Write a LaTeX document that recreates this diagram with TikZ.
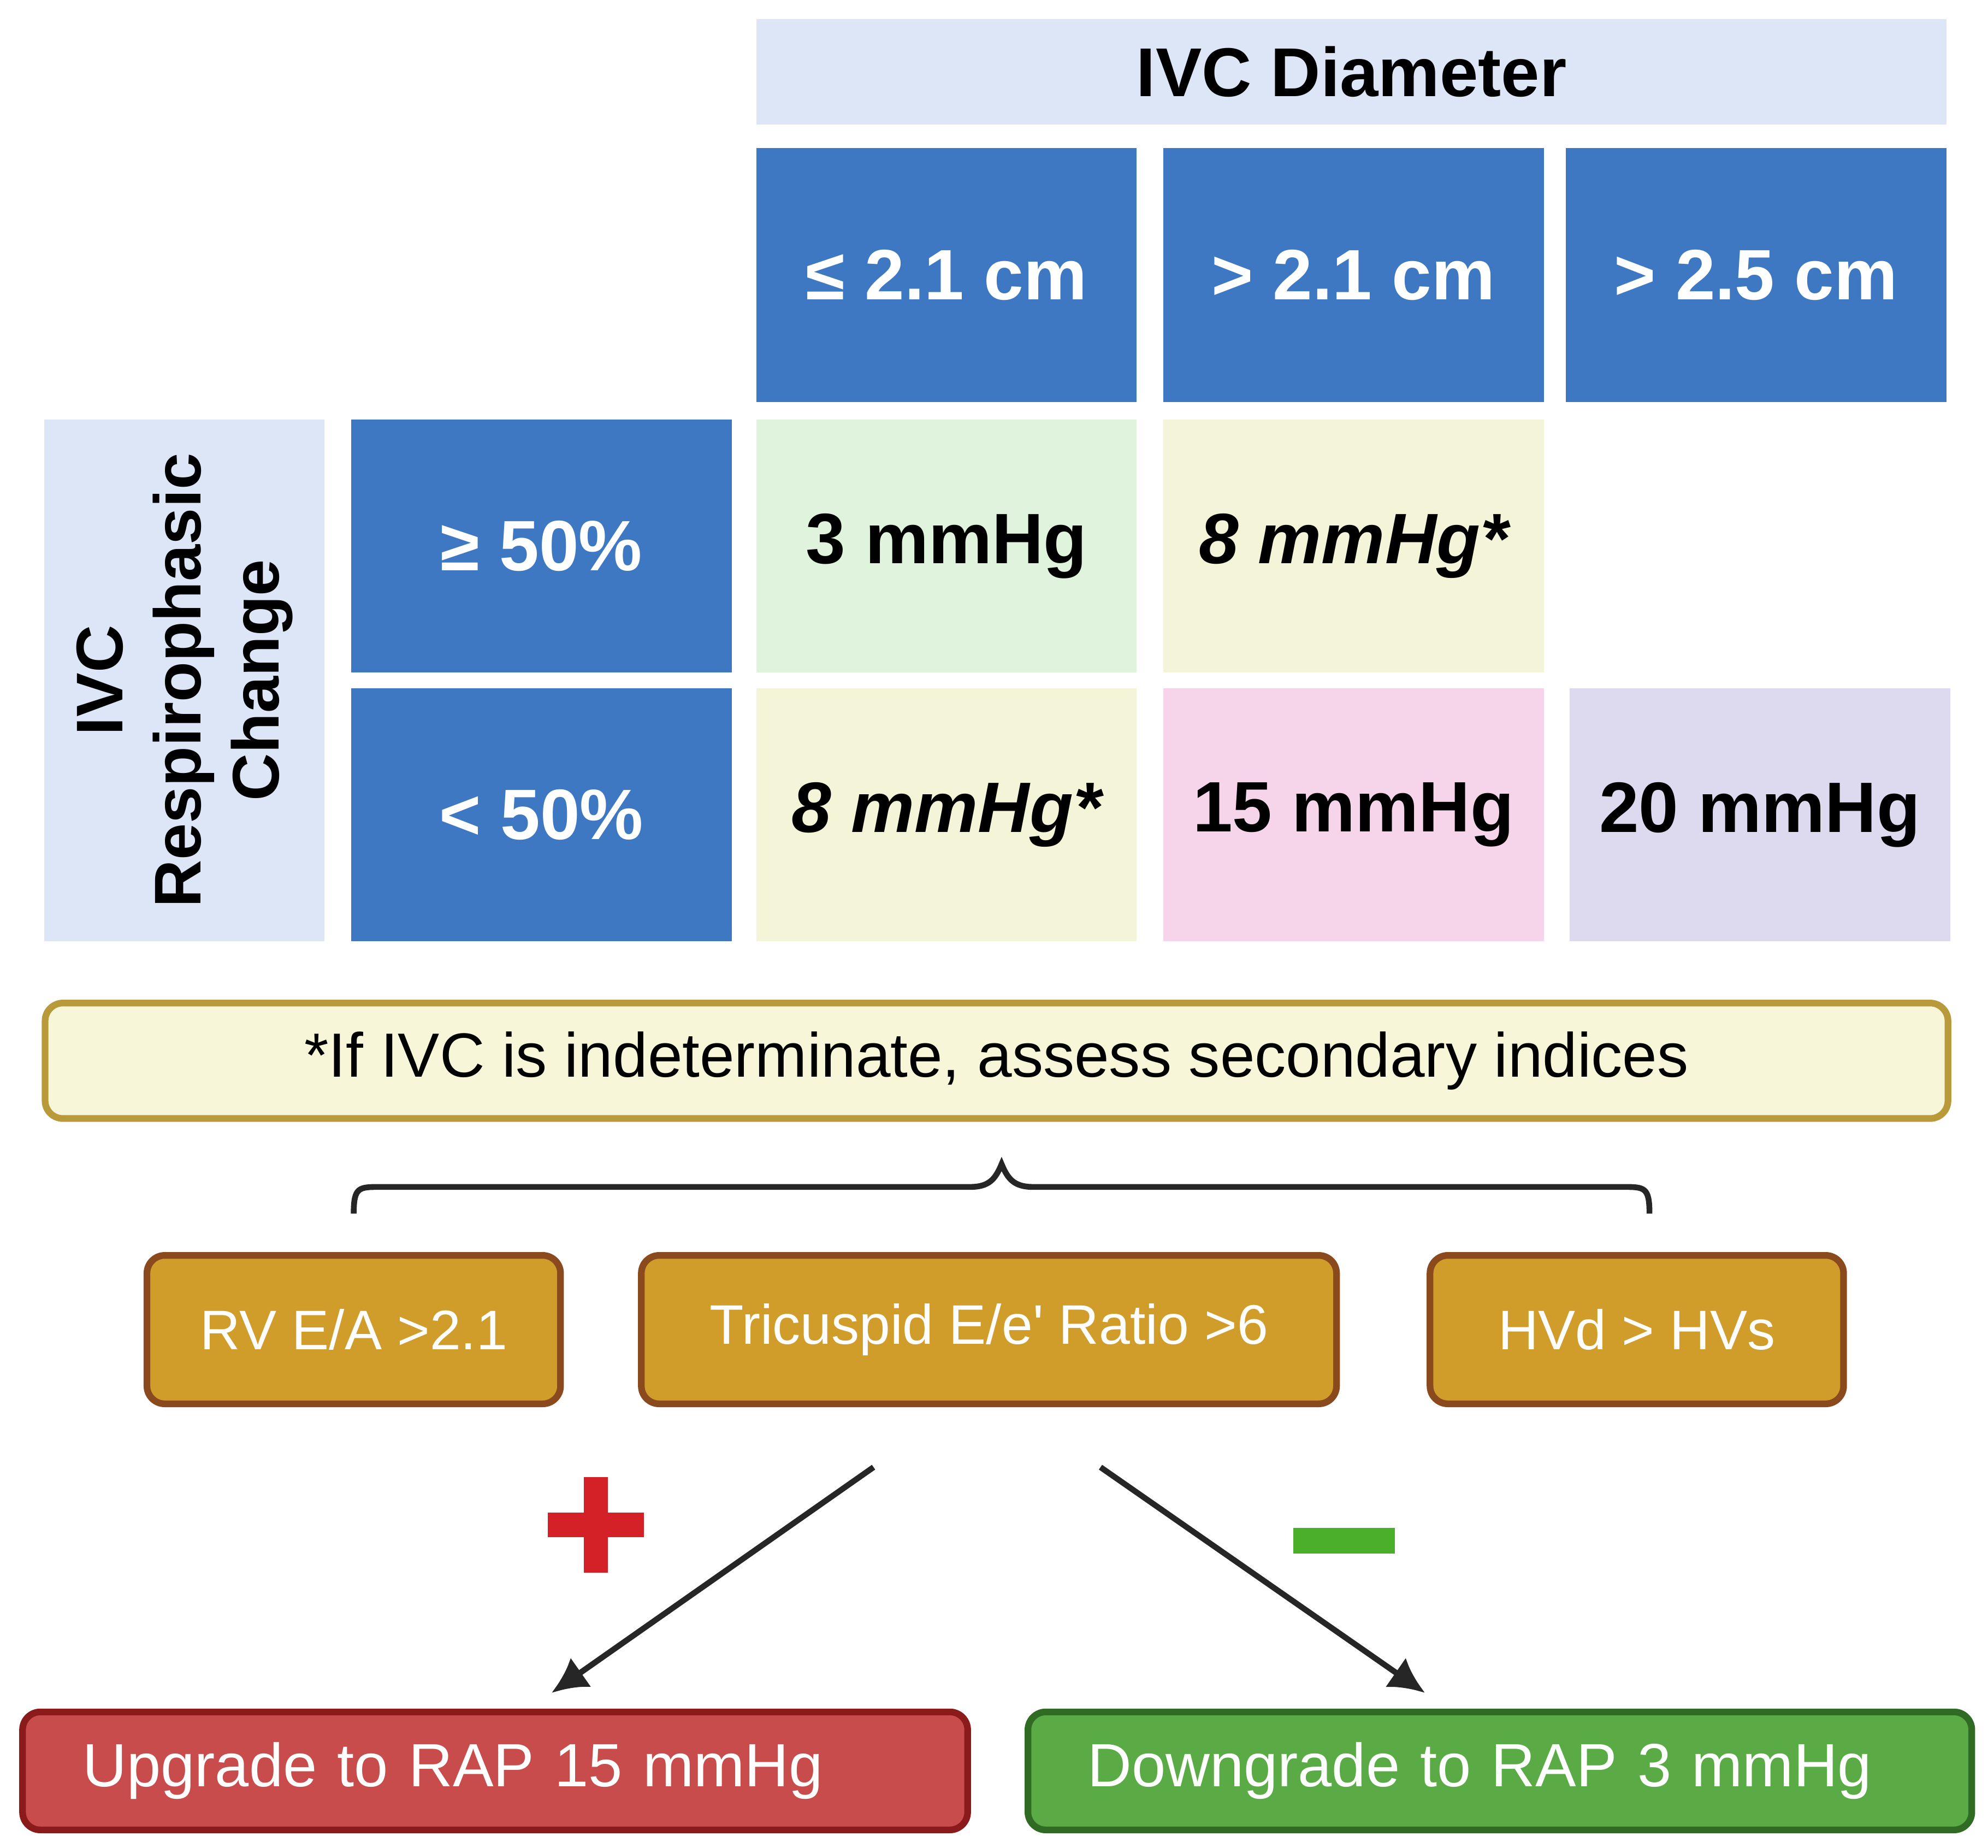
\documentclass[tikz,border=0pt]{standalone}
\usepackage{fontspec}
\setmainfont{Liberation Sans}
\usetikzlibrary{arrows.meta}
\definecolor{hdr}{HTML}{DCE6F7}
\definecolor{blu}{HTML}{3E77C2}
\definecolor{cgreen}{HTML}{E0F3DC}
\definecolor{cyel}{HTML}{F4F4D8}
\definecolor{cpink}{HTML}{F6D5EB}
\definecolor{clav}{HTML}{DDDAF0}
\definecolor{notef}{HTML}{F8F6D8}
\definecolor{noted}{HTML}{B89A3A}
\definecolor{gold}{HTML}{D09D2B}
\definecolor{goldd}{HTML}{8B4A1E}
\definecolor{rbox}{HTML}{C84C4B}
\definecolor{rboxd}{HTML}{8B1A1A}
\definecolor{gbox}{HTML}{5AAA45}
\definecolor{gboxd}{HTML}{2F6B23}
\definecolor{plus}{HTML}{D42027}
\definecolor{minus}{HTML}{4CAF2A}
\begin{document}
\begin{tikzpicture}[x=0.01cm,y=-0.01cm,
 cell/.style={inner sep=0pt,minimum width=3cm,minimum height=2cm,font=\fontsize{16}{19}\selectfont\bfseries},
 colh/.style={cell,fill=blu,text=white},
 gbx/.style={draw=goldd,line width=1.5pt,rounded corners=4pt,fill=gold,text=white,minimum height=1.17cm,inner sep=0pt,font=\fontsize{12.5}{15}\selectfont},
 res/.style={line width=1.5pt,rounded corners=4pt,text=white,minimum height=0.93cm,inner sep=0pt,font=\fontsize{13.7}{16}\selectfont}]
\useasboundingbox (0,0) rectangle (1568,1457);
\node[fill=hdr,minimum width=9.38cm,minimum height=0.83cm,inner sep=0pt,font=\fontsize{15.5}{19}\selectfont\bfseries] (hd) at (1066,56.5) {IVC Diameter};
\node[colh] (c1) at (746.5,217) {≤ 2.1 cm};
\node[colh] (c2) at (1067.5,217) {> 2.1 cm};
\node[colh] (c3) at (1385,217) {> 2.5 cm};
\node[fill=hdr,minimum width=2.21cm,minimum height=4.11cm,inner sep=0pt] (rl) at (145.5,536.5) {};
\node[rotate=90,align=center,font=\fontsize{14.8}{17.5}\selectfont\bfseries] at (rl) {IVC\\Respirophasic\\Change};
\node[colh,minimum height=1.99cm] (r1) at (427,430.5) {≥ 50\%};
\node[colh,minimum height=1.99cm] (r2) at (427,642.5) {< 50\%};
\node[cell,fill=cgreen,minimum height=1.99cm] (a) at (746.5,430.5) {3 mmHg};
\node[cell,fill=cyel,minimum height=1.99cm] (b) at (1067.5,430.5) {\itshape 8 mmHg*};
\node[cell,fill=cyel,minimum height=1.99cm] (c) at (746.5,642.5) {\itshape 8 mmHg*};
\node[cell,fill=cpink,minimum height=1.99cm] (d) at (1067.5,642.5) {15 mmHg};
\node[cell,fill=clav,minimum height=1.99cm] (e) at (1388,642.5) {20 mmHg};
\node[draw=noted,fill=notef,line width=1.5pt,rounded corners=4pt,minimum width=15cm,minimum height=0.91cm,inner sep=0pt,font=\fontsize{14}{16}\selectfont] (n) at (786,836.5) {*If IVC is indeterminate, assess secondary indices};
\draw[line width=1.3pt,black!85] (279,957) .. controls (279,936) and (283,936) .. (300,936) -- (765,936) .. controls (780,936) and (785,930) .. (790,918) .. controls (795,930) and (800,936) .. (815,936) -- (1280,936) .. controls (1297,936) and (1301,936) .. (1301,957);
\node[gbx,minimum width=3.26cm] (g1) at (279,1048.5) {RV E/A >2.1};
\node[gbx,minimum width=5.48cm] (g2) at (780,1048.5) {Tricuspid E/e\textquotesingle{} Ratio >6};
\node[gbx,minimum width=3.26cm] (g3) at (1291,1048.5) {HVd > HVs};
\node[res,draw=rboxd,fill=rbox,minimum width=7.45cm,text width=6.5cm,align=left] (up) at (390.5,1396.5) {Upgrade to RAP 15 mmHg};
\node[res,draw=gboxd,fill=gbox,minimum width=7.44cm,text width=6.5cm,align=left] (dn) at (1183,1396.5) {Downgrade to RAP 3 mmHg};
\coordinate (s1) at (689,1157); \coordinate (t1) at (435,1335);
\coordinate (s2) at (868,1157); \coordinate (t2) at (1124,1335);
\draw[line width=1.3pt,black!85,-{Latex[length=8pt,width=8pt]}] (s1) -- (t1);
\draw[line width=1.3pt,black!85,-{Latex[length=8pt,width=8pt]}] (s2) -- (t2);
\fill[plus] (432,1193) rectangle (508,1212);
\fill[plus] (460.5,1165) rectangle (479.5,1240);
\fill[minus] (1020,1205) rectangle (1100,1225);
\end{tikzpicture}
\end{document}
